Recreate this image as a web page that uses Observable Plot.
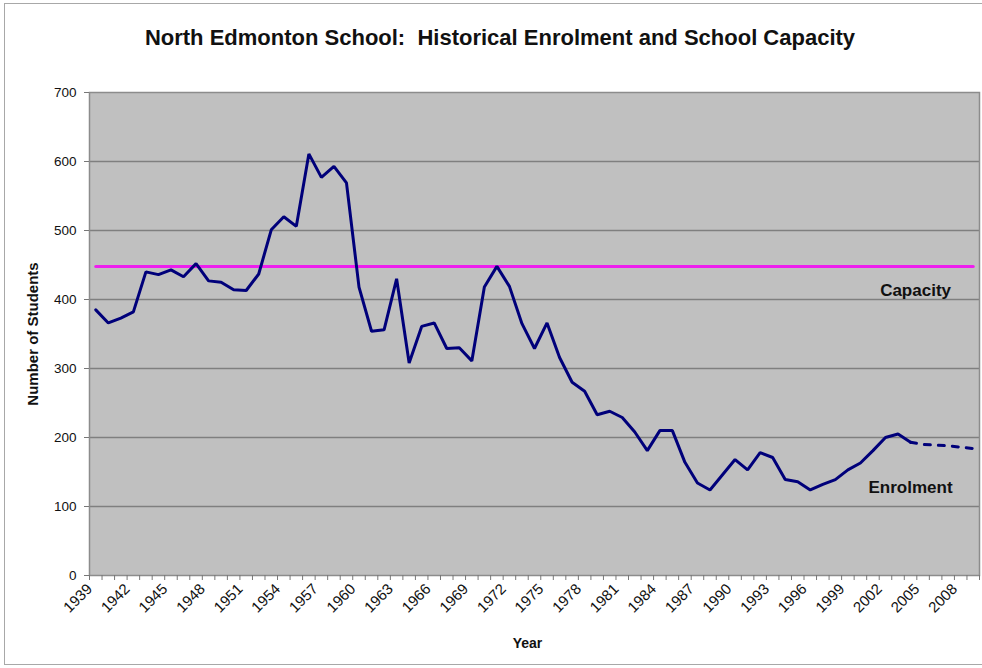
<!DOCTYPE html>
<html><head><meta charset="utf-8">
<script src="https://cdn.jsdelivr.net/npm/d3@7"></script>
<script src="https://cdn.jsdelivr.net/npm/@observablehq/plot@0.6"></script>
<style>
body{margin:0;background:#fff;font-family:Arial,"Liberation Sans",sans-serif;}
#wrap{position:relative;width:982px;height:668px;overflow:hidden;background:#fff;}
#border{position:absolute;left:4px;top:3px;width:990px;height:662px;border:1px solid #a8a8a8;box-sizing:border-box;}
#title{position:absolute;left:0;top:25px;width:1000px;text-align:center;font-weight:bold;font-size:22px;color:#111;}
#chart{position:absolute;left:0;top:80px;}
</style>
</head><body>
<div id="wrap"><div id="border"></div><div id="title">North Edmonton School:&nbsp; Historical Enrolment and School Capacity</div><div id="chart"></div></div>
<script>
const years = [1939,1940,1941,1942,1943,1944,1945,1946,1947,1948,1949,1950,1951,1952,1953,1954,1955,1956,1957,1958,1959,1960,1961,1962,1963,1964,1965,1966,1967,1968,1969,1970,1971,1972,1973,1974,1975,1976,1977,1978,1979,1980,1981,1982,1983,1984,1985,1986,1987,1988,1989,1990,1991,1992,1993,1994,1995,1996,1997,1998,1999,2000,2001,2002,2003,2004];
const enrolment = [385,366,373,382,440,436,443,433,452,427,425,414,413,437,501,520,506,611,577,593,569,418,354,356,430,308,361,366,329,330,311,418,448,419,365,329,366,316,280,267,233,238,229,208,181,210,210,164,134,124,146,168,153,178,171,139,136,124,132,139,153,163,181,200,205,193];
const projYears = [2004,2005,2006,2007,2008,2009];
const projected = [193,190,189,188,186,184];
const capacityYears = [1939,2009];
const capacity = 448;
const xLabelYears = [1939,1942,1945,1948,1951,1954,1957,1960,1963,1966,1969,1972,1975,1978,1981,1984,1987,1990,1993,1996,1999,2002,2005,2008];
const allYears = [1939,1940,1941,1942,1943,1944,1945,1946,1947,1948,1949,1950,1951,1952,1953,1954,1955,1956,1957,1958,1959,1960,1961,1962,1963,1964,1965,1966,1967,1968,1969,1970,1971,1972,1973,1974,1975,1976,1977,1978,1979,1980,1981,1982,1983,1984,1985,1986,1987,1988,1989,1990,1991,1992,1993,1994,1995,1996,1997,1998,1999,2000,2001,2002,2003,2004,2005,2006,2007,2008,2009];
const yTicks = [0,100,200,300,400,500,600,700];

const enrolData = years.map((y,i)=>({year:y, value:enrolment[i]}));
const projData = projYears.map((y,i)=>({year:y, value:projected[i]}));
const capData = capacityYears.map(y=>({year:y, value:capacity}));
const boundaries = [allYears[0]-0.5, ...allYears.map(y=>y+0.5)];

const chart = Plot.plot({
  width:982, height:588,
  marginLeft:89, marginRight:3, marginTop:12, marginBottom:93,
  x:{domain:[allYears[0]-0.5, allYears[allYears.length-1]+0.5]},
  y:{domain:[0,700]},
  style:{fontFamily:"Arial, 'Liberation Sans', sans-serif", fontSize:"13px", color:"#111", background:"transparent", overflow:"visible"},
  marks:[
    Plot.frame({fill:"#c0c0c0"}),
    Plot.ruleY(yTicks.filter(d=>d>0 && d<700), {stroke:"#7f7f7f", strokeWidth:1.5}),
    Plot.frame({stroke:"#8c8c8c", strokeWidth:1.5}),
    Plot.line(capData, {x:"year", y:"value", stroke:"#ee1eee", strokeWidth:3}),
    Plot.line(enrolData, {x:"year", y:"value", stroke:"#00007a", strokeWidth:3, strokeLinejoin:"miter"}),
    Plot.line(projData, {x:"year", y:"value", stroke:"#00007a", strokeWidth:3, strokeDasharray:"6,8"}),
    Plot.axisY({ticks:yTicks, tickSize:5, tickPadding:8, label:null, stroke:"#777", fontSize:13.5}),
    Plot.axisX({ticks:boundaries, tickSize:5, tickFormat:()=>"", label:null, stroke:"#777"}),
    Plot.axisX({ticks:xLabelYears, tickSize:0, tickRotate:-45, tickPadding:11, dx:-6, tickFormat:d=>String(d), label:null, fontSize:15}),
    Plot.text(["Number of Students"], {frameAnchor:"left", textAnchor:"middle", rotate:-90, dx:-56, fontWeight:"bold", fontSize:15}),
    Plot.text(["Year"], {frameAnchor:"bottom", dy:72, dx:-7, fontWeight:"bold", fontSize:14}),
    Plot.text(["Capacity"], {x:()=>2004.4, y:()=>413, fontWeight:"bold", fontSize:17}),
    Plot.text(["Enrolment"], {x:()=>2004.0, y:()=>128, fontWeight:"bold", fontSize:17})
  ]
});
document.getElementById("chart").appendChild(chart);
</script>
</body></html>
